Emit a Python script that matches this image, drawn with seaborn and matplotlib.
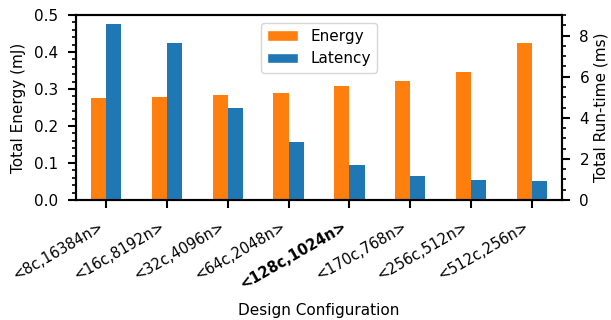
import matplotlib
matplotlib.use("Agg")
import matplotlib.pyplot as plt
import seaborn as sns
import pandas as pd
import numpy as np
from matplotlib.ticker import MultipleLocator
from matplotlib.patches import Patch

configs = ["<8c,16384n>", "<16c,8192n>", "<32c,4096n>", "<64c,2048n>",
           "<128c,1024n>", "<170c,768n>", "<256c,512n>", "<512c,256n>"]
energy_mj = [0.276, 0.278, 0.284, 0.289, 0.308, 0.322, 0.346, 0.424]
latency_ms = [8.56, 7.64, 4.48, 2.82, 1.70, 1.17, 0.97, 0.92]
series = ["Energy", "Latency"]
colors = {"Energy": "#ff7f0e", "Latency": "#1f77b4"}

sns.set_style("ticks", {"axes.edgecolor": "black", "text.color": "black",
                        "axes.labelcolor": "black", "xtick.color": "black",
                        "ytick.color": "black"})
plt.rcParams["font.family"] = ["DejaVu Sans"]
plt.rcParams["font.size"] = 11

df_e = pd.DataFrame({"config": configs + configs,
                     "series": ["Energy"] * len(configs) + ["Latency"] * len(configs),
                     "value": energy_mj + [np.nan] * len(configs)})
df_l = pd.DataFrame({"config": configs + configs,
                     "series": ["Energy"] * len(configs) + ["Latency"] * len(configs),
                     "value": [np.nan] * len(configs) + latency_ms})

fig = plt.figure(figsize=(6.11, 3.2), dpi=100)
ax = fig.add_axes([0.124, 0.375, 0.796, 0.578])
ax2 = ax.twinx()

sns.barplot(data=df_e, x="config", y="value", hue="series", hue_order=series,
            order=configs, palette=colors, width=0.5, saturation=1, ax=ax,
            legend=False, errorbar=None, linewidth=0)
sns.barplot(data=df_l, x="config", y="value", hue="series", hue_order=series,
            order=configs, palette=colors, width=0.5, saturation=1, ax=ax2,
            legend=False, errorbar=None, linewidth=0)

ax.set_ylim(0, 0.5)
ax2.set_ylim(0, 9)
ax.set_xlim(-0.5, len(configs) - 0.5)
ax.yaxis.set_major_locator(MultipleLocator(0.1))
ax.yaxis.set_minor_locator(MultipleLocator(0.02))
ax2.yaxis.set_major_locator(MultipleLocator(2))
ax2.yaxis.set_minor_locator(MultipleLocator(0.5))

for a in (ax, ax2):
    for s in a.spines.values():
        s.set_linewidth(1.5)
        s.set_color("black")
    a.tick_params(which="major", length=5.5, width=1.5, labelsize=11,
                  colors="black", pad=7)
    a.tick_params(which="minor", length=3, width=1.2, colors="black")
ax.tick_params(axis="x", which="major", length=5.5, pad=8, labelsize=10.5)

ax.set_ylabel("Total Energy (mJ)", fontsize=11, color="black", labelpad=6)
ax2.set_ylabel("Total Run-time (ms)", fontsize=11, color="black", labelpad=3)
ax.set_xlabel("Design Configuration", fontsize=11, color="black", labelpad=8)

ax.set_xticks(range(len(configs)))
ax.set_xticklabels(configs, rotation=30, ha="right", rotation_mode="default")
for lbl in ax.get_xticklabels():
    if lbl.get_text() == "<128c,1024n>":
        lbl.set_fontweight("bold")

handles = [Patch(facecolor=colors[s], label=s) for s in series]
ax2.legend(handles=handles, loc="upper center", fontsize=11)

fig.savefig("out.png", dpi=100)
